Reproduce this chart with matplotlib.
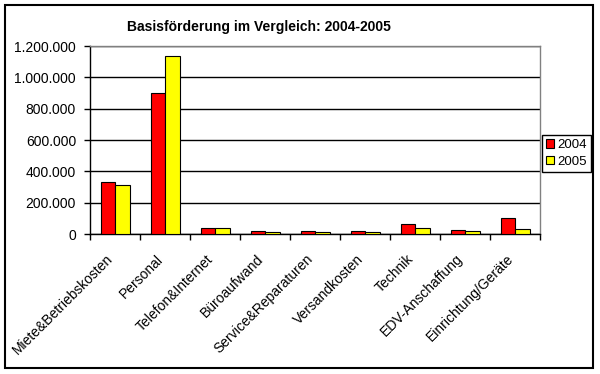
import matplotlib
matplotlib.use("Agg")
import matplotlib.pyplot as plt
import numpy as np
from matplotlib.patches import Rectangle
from matplotlib.ticker import FuncFormatter, FixedLocator
from matplotlib.transforms import ScaledTranslation

plt.rcParams["font.family"] = ["Liberation Sans", "DejaVu Sans"]

categories = ["Miete&Betriebskosten", "Personal", "Telefon&Internet", "Büroaufwand",
              "Service&Reparaturen", "Versandkosten", "Technik", "EDV-Anschaffung",
              "Einrichtung/Geräte"]
werte_2004 = [330000, 900000, 36000, 19000, 19000, 19000, 64000, 26000, 100000]
werte_2005 = [313000, 1135000, 36000, 12000, 12000, 12000, 38000, 19000, 32000]
yticks = [0, 200000, 400000, 600000, 800000, 1000000, 1200000]

fig = plt.figure(figsize=(6, 3.74), dpi=100)
ax = fig.add_axes([0.15, 0.3743, 0.75, 0.5027])

x = np.arange(len(categories))
w = 0.29
ax.bar(x - w / 2, werte_2004, w, color="#FF0000", edgecolor="black", linewidth=0.8,
       label="2004", zorder=3)
ax.bar(x + w / 2, werte_2005, w, color="#FFFF00", edgecolor="black", linewidth=0.8,
       label="2005", zorder=3)

ax.set_xlim(-0.5, len(categories) - 0.5)
ax.set_ylim(0, 1200000)
ax.set_yticks(yticks)
ax.yaxis.set_major_formatter(FuncFormatter(lambda v, p: f"{int(v):,}".replace(",", ".")))
ax.yaxis.grid(True, color="black", linewidth=1)
ax.set_axisbelow(True)

# x ticks between categories, labels at centres
ax.xaxis.set_major_locator(FixedLocator(np.arange(-0.5, len(categories), 1.0)))
ax.xaxis.set_major_formatter(FuncFormatter(lambda v, p: ""))
ax.set_xticks(x, minor=True)
ax.set_xticklabels(categories, minor=True, rotation=45, ha="right",
                   rotation_mode="anchor", fontsize=10)
ax.tick_params(axis="x", which="minor", length=0, pad=10)
ax.tick_params(axis="x", which="major", length=4, width=1, direction="out")
ax.tick_params(axis="y", length=4, width=1, direction="out", labelsize=10, pad=6)

shift = ScaledTranslation(-9 / 100, -4 / 100, fig.dpi_scale_trans)
for lab in ax.get_xticklabels(minor=True):
    lab.set_transform(lab.get_transform() + shift)

for s in ["left", "bottom"]:
    ax.spines[s].set_color("black")
    ax.spines[s].set_linewidth(1)
for s in ["top", "right"]:
    ax.spines[s].set_color("#808080")
    ax.spines[s].set_linewidth(1)

fig.text(0.432, 0.927, "Basisförderung im Vergleich: 2004-2005", ha="center",
         va="center", fontsize=10, fontweight="bold")

leg = fig.legend(loc="center", bbox_to_anchor=(566.5 / 600, 1 - 153.5 / 374),
                 fontsize=9.5, frameon=True, fancybox=False, edgecolor="black",
                 framealpha=1, handlelength=0.6, handleheight=0.6,
                 handletextpad=0.3, borderpad=0.3, labelspacing=0.35,
                 borderaxespad=0)
leg.get_frame().set_linewidth(1)

fig.patches.append(Rectangle((5 / 600, 1 - 368 / 374), 588 / 600, 363 / 374,
                             transform=fig.transFigure, fill=False,
                             edgecolor="black", linewidth=1.5))

fig.savefig("out.png", dpi=100)
